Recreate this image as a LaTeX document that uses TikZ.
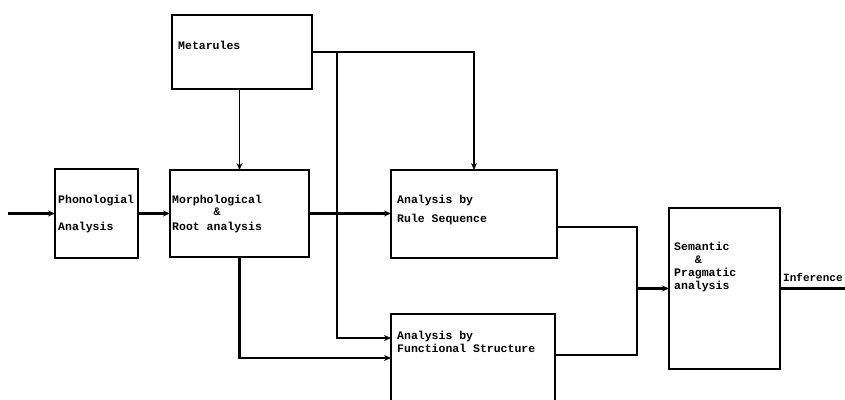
\documentclass[tikz,border=0pt]{standalone}
\usepackage{fontspec}
\setmonofont{Liberation Mono}
\usetikzlibrary{arrows.meta}

\tikzset{
  blk/.style={draw, line width=2.2pt, inner sep=0pt, outer sep=0pt, anchor=north west},
  txt/.style={font=\ttfamily\bfseries\fontsize{11.5}{13}\selectfont, inner sep=0pt, anchor=north west, align=left},
  conn/.style={line width=2.2pt},
  arr/.style={conn, -{Stealth[length=7pt,width=6pt]}}
}

\begin{document}
\begin{tikzpicture}[x=1pt,y=-1pt]
      \useasboundingbox (0,0) rectangle (845,399) ;
      \clip (0,0) rectangle (845,399) ;
      % boxes
      \node[blk, minimum width=83pt, minimum height=89pt] (phon) at (55,169) {} ;
      \node[blk, minimum width=139pt, minimum height=87pt] (morph) at (170,170) {} ;
      \node[blk, minimum width=140pt, minimum height=74pt] (meta) at (172,15) {} ;
      \node[blk, minimum width=166pt, minimum height=88pt] (rule) at (391,170) {} ;
      \node[blk, minimum width=164pt, minimum height=110pt] (fun) at (391,314) {} ;
      \node[blk, minimum width=111pt, minimum height=161pt] (sem) at (669,208) {} ;
      % texts
      \node[txt] (tmeta) at (178,41) {Metarules} ;
      \node[txt] (tphon) at (58,195) {Phonologial\\[14pt]Analysis} ;
      \node[txt, align=center] (tmorph) at (172,195) {Morphological\\[-1pt]\&\\[2pt]Root analysis} ;
      \node[txt] (trule) at (397,195) {Analysis by\\[6pt]Rule Sequence} ;
      \node[txt] (tfun) at (397,331) {Analysis by\\Functional Structure} ;
      \node[txt] (tsem) at (674,242) {Semantic\\\ \ \ \&\\Pragmatic\\analysis} ;
      % connectors
      \coordinate (in) at (8,213.5) ;
      \coordinate (br) at (337,52) ;
      \coordinate (jn) at (637,288.5) ;
      \coordinate (out) at (850,288.5) ;
      \draw[arr] (in) -- (phon.west) ;
      \draw[arr] (phon.east) -- (morph.west) ;
      \draw[arr, line width=1.3pt] (meta.south -| morph.north) -- (morph.north) ;
      \draw[arr] (meta.east) -| (rule.north) ;
      \draw[arr] (br) |- ([yshift=-24pt]fun.north west) ;
      \draw[arr] (morph.east) -- (morph.east -| rule.west) ;
      \draw[arr] (morph.south) |- ([yshift=-44pt]fun.north west) ;
      \draw[conn] ([yshift=-13pt]rule.east) -| (jn) |- ([yshift=-41pt]fun.north east) ;
      \draw[arr] (jn) -- (sem.west) ;
      \draw[conn] (sem.east) -- (out) ;
      \node[txt, font=\ttfamily\bfseries\fontsize{11}{13}\selectfont, anchor=south west] (tout) at (783,282) {Inference} ;
\end{tikzpicture}
\end{document}
